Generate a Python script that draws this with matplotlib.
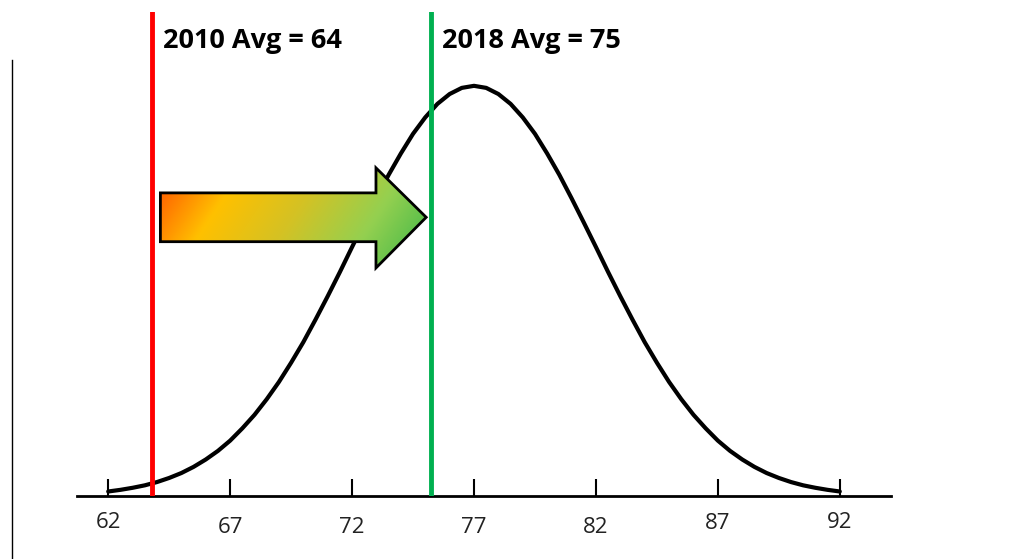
import numpy as np
import matplotlib.pyplot as plt
from matplotlib.colors import LinearSegmentedColormap
from matplotlib.patches import Polygon
from matplotlib.lines import Line2D

plt.rcParams['font.family'] = ['Open Sans', 'DejaVu Sans']

# curve (relative height, peak = 1), half-point steps
scores = [62 + 0.5 * i for i in range(61)]
left_half = [0.011, 0.015, 0.020, 0.026, 0.034, 0.044, 0.056, 0.071, 0.089, 0.110,
             0.135, 0.165, 0.198, 0.236, 0.278, 0.325, 0.375, 0.430, 0.487, 0.546,
             0.607, 0.667, 0.726, 0.783, 0.835, 0.883, 0.923, 0.956, 0.980, 0.995]
density = left_half + [1.000] + left_half[::-1]

tick_values = [62, 67, 72, 77, 82, 87, 92]
avg_labels = ['2010 Avg = 64', '2018 Avg = 75']
avg_positions = [63.8, 75.25]
avg_colors = ['#ff0000', '#00b050']

fig = plt.figure(figsize=(10.25, 5.59), dpi=100)
ax = fig.add_axes([77 / 1025, 63 / 559, 814 / 1025, 484 / 559])
ax.set_xlim(60.72, 94.1)
ax.set_ylim(0, 1.18)

for s in ['top', 'right', 'left']:
    ax.spines[s].set_visible(False)
ax.spines['bottom'].set_linewidth(2)
ax.set_yticks([])
ax.set_xticks(tick_values)
ax.set_xticklabels([])
ax.tick_params(axis='x', direction='in', length=12, width=1.5, color='black')

# staggered tick labels
label_drop = [19, 23, 23, 23, 23, 20, 19]
for v, d in zip(tick_values, label_drop):
    ax.annotate(str(v), xy=(v, 0), xycoords=('data', 'axes fraction'),
                xytext=(0, -d), textcoords='offset points',
                ha='center', va='center', fontsize=16, color='#222222',
                annotation_clip=False)

ax.plot(scores, density, color='black', lw=3, solid_capstyle='round', zorder=2)

for pos, lab, col in zip(avg_positions, avg_labels, avg_colors):
    ax.axvline(pos, color=col, lw=3.5, zorder=3)
    ax.annotate(lab, xy=(pos, 1), xycoords=('data', 'axes fraction'),
                xytext=(8, -21), textcoords='offset points',
                ha='left', va='center', fontsize=19.5, fontweight='bold',
                family=['Open Sans', 'DejaVu Sans'], color='black',
                annotation_clip=False)

# gradient arrow between the two averages
x0, xh, xt = 64.14, 72.98, 75.04
ys_top, ys_bot, yh_top, yh_bot = 0.739, 0.620, 0.800, 0.556
yc = (ys_top + ys_bot) / 2
verts = [(x0, ys_bot), (x0, ys_top), (xh, ys_top), (xh, yh_top),
         (xt, yc), (xh, yh_bot), (xh, ys_bot)]
arrow = Polygon(verts, closed=True, facecolor='none', edgecolor='black',
                lw=2, zorder=5, joinstyle='miter')
ax.add_patch(arrow)

cmap = LinearSegmentedColormap.from_list(
    'arr', ['#ff4e00', '#ffc000', '#d4c224', '#94d050', '#3cb648'])
gx, gy = np.meshgrid(np.linspace(0, 1, 300), np.linspace(0, 1, 150))
grad = gx * 0.8 + (1 - gy) * 0.2
img = ax.imshow(grad, cmap=cmap, origin='lower', aspect='auto',
                extent=[x0, xt, yh_bot, yh_top], zorder=4)
clip = Polygon(verts, closed=True, transform=ax.transData, facecolor='none')
ax.add_patch(clip)
clip.set_visible(False)
img.set_clip_path(clip)
ax.set_xlim(60.72, 94.1)
ax.set_ylim(0, 1.18)

# left vertical rule
fig.add_artist(Line2D([12 / 1025, 12 / 1025], [0, 1 - 60 / 559],
                      transform=fig.transFigure, color='black', lw=1))

fig.savefig('out.png', dpi=100)
